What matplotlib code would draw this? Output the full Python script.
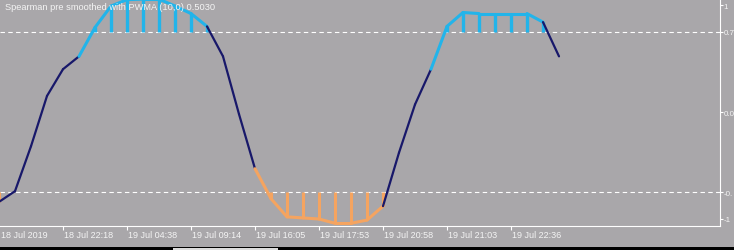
import matplotlib
matplotlib.use("Agg")
import matplotlib.pyplot as plt
from matplotlib.patches import Rectangle
import numpy as np

# ---- data ----
values = [-0.84, -0.74, -0.32, 0.15, 0.40, 0.52, 0.79, 0.99, 1.05, 1.055, 1.055,
          0.99, 0.92, 0.80, 0.52, -0.02, -0.53, -0.81, -0.98, -0.99, -1.00,
          -1.04, -1.04, -1.01, -0.88, -0.38, 0.07, 0.40, 0.80, 0.93, 0.92,
          0.92, 0.92, 0.92, 0.84, 0.52]
upper_level = 0.75
lower_level = -0.75
xtick_bars = [0, 4, 8, 12, 16, 20, 24, 28, 32]
xtick_labels = ["18 Jul 2019", "18 Jul 22:18", "19 Jul 04:38", "19 Jul 09:14",
                "19 Jul 16:05", "19 Jul 17:53", "19 Jul 20:58", "19 Jul 21:03",
                "19 Jul 22:36"]
ytick_values = [1, 0.75, 0.0, -0.75, -1]
# the price scale is cut at the window edge, as in the reference
ytick_labels = ["1", "0.7", "0.0", "-0.", "-1"]
title = "Spearman pre smoothed with PWMA (10,0) 0.5030"

# ---- style ----
BG = "#a9a7aa"
NAVY = "#18186a"
CYAN = "#22b4ea"
ORANGE = "#f5a460"
TXT = "#f4f4f4"
FONT = "Liberation Sans"

W, H = 734, 251
fig = plt.figure(figsize=(W / 100, H / 100), dpi=100, facecolor=BG)
ax = fig.add_axes([0, 24 / H, 720 / W, 227 / H], facecolor=BG)

x = np.arange(len(values))
v = np.array(values)

# histogram bars beyond levels
for xi, vi in zip(x, v):
    if vi > upper_level:
        ax.vlines(xi, upper_level, vi, color=CYAN, lw=2.4, zorder=3)
    elif vi < lower_level:
        ax.vlines(xi, lower_level, vi, color=ORANGE, lw=2.2, zorder=3)

# line segments coloured by the level state of the end bar
for i in range(1, len(v)):
    if v[i] > upper_level:
        c, lw = CYAN, 2.2
    elif v[i] < lower_level:
        c, lw = ORANGE, 2.2
    else:
        c, lw = NAVY, 1.6
    ax.plot(x[i - 1:i + 1], v[i - 1:i + 1], color=c, lw=lw,
            solid_capstyle="round", zorder=4)

# level lines
for lv in (upper_level, lower_level):
    ax.axhline(lv, color="white", lw=0.8, ls=(0, (4, 3)), zorder=2)

# axes limits: bar i at pixel 16*i - 1
ax.set_xlim(1 / 16, 721 / 16)
ax.set_ylim(-114 / 107, 113 / 107)

for s in ("top", "left"):
    ax.spines[s].set_visible(False)
for s in ("bottom", "right"):
    ax.spines[s].set_color("white")
    ax.spines[s].set_linewidth(0.8)

ax.yaxis.tick_right()
ax.set_yticks(ytick_values)
ax.set_yticklabels(ytick_labels, fontsize=5.8, color=TXT, fontfamily=FONT)
ax.tick_params(axis="y", colors="white", length=2, width=0.8, pad=0.5,
               labelcolor=TXT)

ax.set_xticks([b for b in xtick_bars if b > 0])
ax.set_xticklabels([])
ax.tick_params(axis="x", colors="white", length=3, width=0.8)
for b, lab in zip(xtick_bars, xtick_labels):
    px = max(16 * b - 1, 0) + 1
    fig.text(px / W, 1 - 236 / H, lab, fontsize=6.5, color=TXT,
             fontfamily=FONT, ha="left", va="center")

fig.text(5 / W, 1 - 7 / H, title, fontsize=6.7, color=TXT, fontfamily=FONT,
         ha="left", va="center", zorder=10)

# bottom window border strip
fig.patches.append(Rectangle((0, 0), 1, 3 / H, transform=fig.transFigure,
                             facecolor="black", edgecolor="none"))
fig.patches.append(Rectangle((173 / W, 0), 105 / W, 2.5 / H,
                             transform=fig.transFigure,
                             facecolor="#dcdcdc", edgecolor="none"))

fig.savefig("out.png", dpi=100, facecolor=BG)
